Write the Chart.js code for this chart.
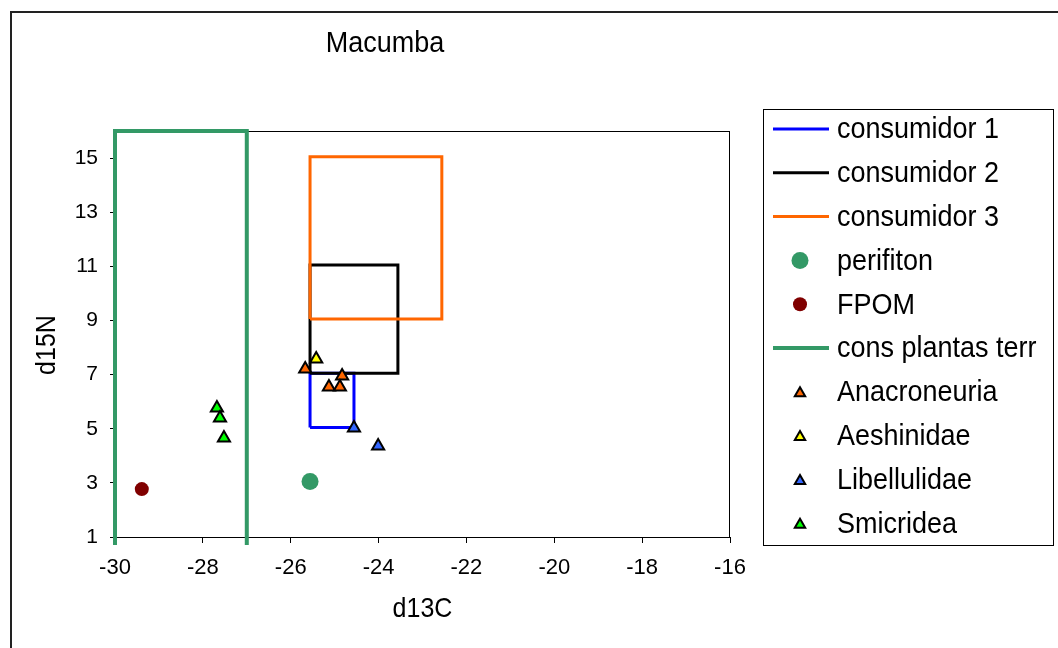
<!DOCTYPE html>
<html>
<head>
<meta charset="utf-8">
<title>Macumba</title>
<script src="https://cdn.jsdelivr.net/npm/chart.js@4.4.1/dist/chart.umd.min.js"></script>
<style>
  html, body { margin: 0; padding: 0; background: #fff; }
</style>
</head>
<body>
<canvas id="chart" width="1058" height="648"></canvas>
<script>
// axis ticks
const xTicks = [-30, -28, -26, -24, -22, -20, -18, -16];
const yTicks = [1, 3, 5, 7, 9, 11, 13, 15];

// consumer boxes (closed outlines, d13C / d15N)
const cons1X = [-25.56, -25.56, -24.56, -24.56, -25.56];
const cons1Y = [5.05, 7.05, 7.05, 5.05, 5.05];
const cons2X = [-25.56, -25.56, -23.56, -23.56, -25.56];
const cons2Y = [7.05, 11.05, 11.05, 7.05, 7.05];
const cons3X = [-25.56, -25.56, -22.56, -22.56, -25.56];
const cons3Y = [9.05, 15.05, 15.05, 9.05, 9.05];
const plantasX = [-30, -30, -27, -27];
const plantasY = [0, 16, 16, 0];

// sources
const perifitonX = [-25.56];
const perifitonY = [3.05];
const fpomX = [-29.39];
const fpomY = [2.77];

// taxa
const anacroX = [-25.67, -24.83, -25.13, -24.88];
const anacroY = [7.21, 6.95, 6.54, 6.54];
const aeshX = [-25.42];
const aeshY = [7.58];
const libelX = [-24.56, -24.01];
const libelY = [5.03, 4.36];
const smicX = [-27.68, -27.61, -27.52];
const smicY = [5.77, 5.40, 4.66];

const FONT = '"Liberation Sans", Arial, sans-serif';
const TALL = 1.12; // text in this chart is drawn a bit taller than wide
const pts = (xs, ys) => xs.map((x, i) => ({ x, y: ys[i] }));

const lineSet = (label, xs, ys, color, width, order, extra) => Object.assign({
  label, data: pts(xs, ys), showLine: true, borderColor: color, borderWidth: width,
  pointRadius: 0, fill: false, tension: 0, order
}, extra || {});

const markSet = (label, xs, ys, style, color, radius, order) => ({
  label, data: pts(xs, ys), showLine: false, pointStyle: style,
  backgroundColor: color, pointBackgroundColor: color,
  pointBorderColor: style === 'triangle' ? '#000' : color,
  pointBorderWidth: style === 'triangle' ? 2 : 0,
  pointRadius: radius, order
});

function tallText(ctx, text, x, y, rot) {
  ctx.save();
  ctx.translate(x, y);
  if (rot) ctx.rotate(rot);
  ctx.scale(1, TALL);
  ctx.fillText(text, 0, 0);
  ctx.restore();
}

// white page + outer frame + titles
const pageFrame = {
  id: 'pageFrame',
  beforeDraw(chart) {
    const ctx = chart.ctx;
    ctx.save();
    ctx.fillStyle = '#fff';
    ctx.fillRect(0, 0, chart.width, chart.height);
    ctx.strokeStyle = '#222';
    ctx.lineWidth = 2;
    ctx.beginPath();
    ctx.moveTo(11, chart.height);
    ctx.lineTo(11, 12);
    ctx.lineTo(chart.width, 12);
    ctx.stroke();
    ctx.fillStyle = '#000';
    ctx.textAlign = 'center';
    ctx.textBaseline = 'middle';
    ctx.font = '27px ' + FONT;
    tallText(ctx, 'Macumba', 385, 44);
    // y axis title
    const a = chart.chartArea;
    ctx.font = '25px ' + FONT;
    tallText(ctx, 'd15N', 47, 345, -Math.PI / 2);
    tallText(ctx, 'd13C', (a.left + a.right) / 2, 609);
    ctx.restore();
  },
  beforeDatasetsDraw(chart) {
    const a = chart.chartArea, ctx = chart.ctx;
    ctx.save();
    ctx.strokeStyle = '#000';
    ctx.lineWidth = 1;
    ctx.strokeRect(a.left + 0.5, a.top + 0.5, a.right - a.left - 1, a.bottom - a.top);
    ctx.restore();
  }
};

// boxed legend on the right
const legendBox = {
  id: 'legendBox',
  afterDraw(chart) {
    const ctx = chart.ctx;
    ctx.save();
    ctx.strokeStyle = '#000';
    ctx.lineWidth = 1;
    ctx.strokeRect(763.5, 109.5, 290, 436);
    ctx.font = '27px ' + FONT;
    ctx.textBaseline = 'middle';
    ctx.textAlign = 'left';
    chart.data.datasets.forEach((ds, i) => {
      const y = 129 + i * 43.8;
      if (ds.showLine) {
        ctx.strokeStyle = ds.borderColor;
        ctx.lineWidth = ds.borderWidth;
        ctx.beginPath();
        ctx.moveTo(773, y);
        ctx.lineTo(829, y);
        ctx.stroke();
      } else {
        ctx.fillStyle = ds.pointBackgroundColor;
        ctx.strokeStyle = ds.pointBorderColor;
        ctx.lineWidth = ds.pointBorderWidth;
        Chart.helpers.drawPoint(ctx, {
          pointStyle: ds.pointStyle, rotation: 0,
          radius: ds.pointStyle === 'triangle' ? 6 : ds.pointRadius,
          borderWidth: ds.pointBorderWidth
        }, 800, ds.pointStyle === 'triangle' ? y + 1.5 : y);
      }
      ctx.fillStyle = '#000';
      tallText(ctx, ds.label, 837, y + 1);
    });
    ctx.restore();
  }
};

new Chart(document.getElementById('chart'), {
  type: 'scatter',
  data: {
    datasets: [
      lineSet('consumidor 1', cons1X, cons1Y, '#0000FF', 3, 5),
      lineSet('consumidor 2', cons2X, cons2Y, '#000000', 3, 4),
      lineSet('consumidor 3', cons3X, cons3Y, '#FF6600', 3, 3),
      markSet('perifiton', perifitonX, perifitonY, 'circle', '#339966', 8.5, 2),
      markSet('FPOM', fpomX, fpomY, 'circle', '#800000', 7, 2),
      lineSet('cons plantas terr', plantasX, plantasY, '#339966', 4, 6,
        { clip: { left: 6, top: 6, right: 6, bottom: 8 } }),
      markSet('Anacroneuria', anacroX, anacroY, 'triangle', '#FF6600', 7, 1),
      markSet('Aeshinidae', aeshX, aeshY, 'triangle', '#FFFF00', 7, 0),
      markSet('Libellulidae', libelX, libelY, 'triangle', '#3366FF', 7, 0),
      markSet('Smicridea', smicX, smicY, 'triangle', '#00FF00', 7, 0)
    ]
  },
  options: {
    responsive: false,
    animation: false,
    events: [],
    layout: { padding: { left: 10, top: 131, right: 328, bottom: 0 } },
    plugins: { legend: { display: false }, tooltip: { enabled: false } },
    scales: {
      x: {
        type: 'linear', min: -30, max: -16,
        afterBuildTicks: s => { s.ticks = xTicks.map(v => ({ value: v })); },
        afterFit: s => { s.height = 111; },
        grid: { drawOnChartArea: false, tickLength: 6, tickColor: '#000', tickWidth: 1 },
        border: { display: true, color: '#000', width: 1 },
        ticks: { color: '#000', font: { family: FONT, size: 22 }, padding: 12, maxRotation: 0 }
      },
      y: {
        type: 'linear', min: 1, max: 16,
        afterBuildTicks: s => { s.ticks = yTicks.map(v => ({ value: v })); },
        afterFit: s => { s.width = 105; },
        grid: { drawOnChartArea: false, tickLength: 5, tickColor: '#000', tickWidth: 1 },
        border: { display: true, color: '#000', width: 1 },
        ticks: { color: '#000', font: { family: FONT, size: 21 }, padding: 12 }
      }
    }
  },
  plugins: [pageFrame, legendBox]
});
</script>
</body>
</html>
